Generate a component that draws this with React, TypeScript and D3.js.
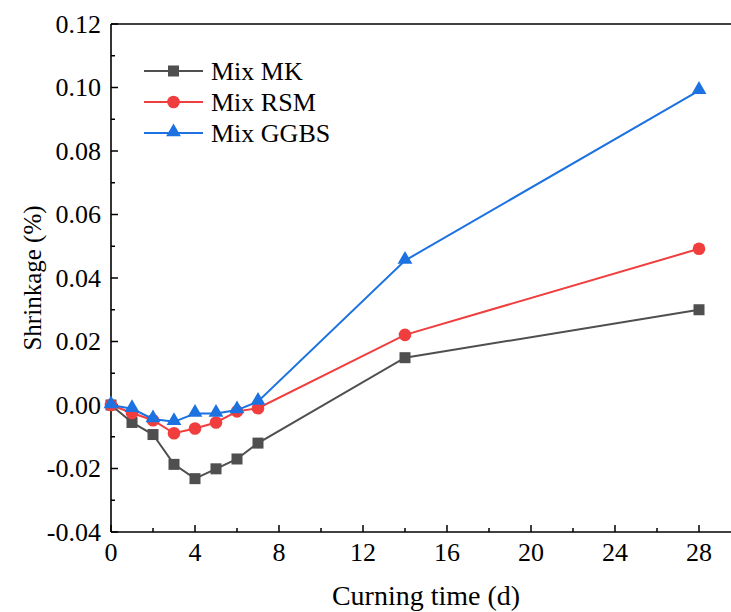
import React from "react";
import * as d3 from "d3";

const days = [0, 1, 2, 3, 4, 5, 6, 7, 14, 28];
const mixMK = [0, -0.0055, -0.0093, -0.0187, -0.0232, -0.0201, -0.0170, -0.0120, 0.0149, 0.0300];
const mixRSM = [0, -0.0025, -0.0048, -0.0089, -0.0074, -0.0055, -0.0020, -0.0010, 0.0221, 0.0492];
const mixGGBS = [0, -0.0012, -0.0044, -0.0053, -0.0027, -0.0027, -0.0016, 0.0011, 0.0455, 0.0990];

const seriesNames = ["Mix MK", "Mix RSM", "Mix GGBS"];
const xTicks = [0, 4, 8, 12, 16, 20, 24, 28];
const yTicks = [-0.04, -0.02, 0, 0.02, 0.04, 0.06, 0.08, 0.1, 0.12];

const W = 731;
const H = 612;
const left = 111;
const top = 24;
const bottom = 532;
const right = 741;

const colors = ["#4f4f4f", "#f03e3e", "#1c72e0"];
const serif = { fontFamily: "Liberation Serif, Times New Roman, serif" };

function Marker({ kind, x, y, color }: { kind: number; x: number; y: number; color: string }) {
  if (kind === 0) return <rect x={x - 5.5} y={y - 5.5} width={11} height={11} fill={color} />;
  if (kind === 1) return <circle cx={x} cy={y} r={6.3} fill={color} />;
  const sym = d3.symbol().type(d3.symbolTriangle).size(95)();
  return <path d={sym || ""} transform={`translate(${x},${y - 1})`} fill={color} />;
}

export default function App() {
  const x = d3.scaleLinear().domain([0, 30]).range([left, right]);
  const y = d3.scaleLinear().domain([-0.04, 0.12]).range([bottom, top]);
  const all = [mixMK, mixRSM, mixGGBS];
  const line = d3
    .line<number>()
    .x((_, i) => x(days[i]))
    .y((v) => y(v));

  const xMinor = d3.range(0, 31, 2).filter((v) => v % 4 !== 0);
  const yMinor = d3.range(-0.03, 0.12, 0.02);

  return (
    <svg width={W} height={H} style={{ position: "absolute", left: 0, top: 0, background: "#fff" }}>
      {/* frame */}
      <line x1={left} x2={right} y1={top} y2={top} stroke="#000" strokeWidth={1.6} />
      <line x1={left} x2={left} y1={top} y2={bottom} stroke="#000" strokeWidth={1.6} />
      <line x1={left} x2={right} y1={bottom} y2={bottom} stroke="#000" strokeWidth={1.6} />

      {/* x ticks */}
      {xTicks.map((t) => (
        <g key={"xt" + t}>
          <line x1={x(t)} x2={x(t)} y1={bottom} y2={bottom - 7} stroke="#000" strokeWidth={1.5} />
          <text x={x(t)} y={561} textAnchor="middle" style={serif} fontSize={26} fill="#000">
            {t}
          </text>
        </g>
      ))}
      {xMinor.map((t) => (
        <line key={"xm" + t} x1={x(t)} x2={x(t)} y1={bottom} y2={bottom - 4} stroke="#000" strokeWidth={1.5} />
      ))}

      {/* y ticks */}
      {yTicks.map((t) => (
        <g key={"yt" + t}>
          <line x1={left} x2={left + 7} y1={y(t)} y2={y(t)} stroke="#000" strokeWidth={1.5} />
          <text x={101} y={y(t) + 8.5} textAnchor="end" style={serif} fontSize={26} fill="#000">
            {t.toFixed(2)}
          </text>
        </g>
      ))}
      {yMinor.map((t) => (
        <line key={"ym" + t} x1={left} x2={left + 4} y1={y(t)} y2={y(t)} stroke="#000" strokeWidth={1.5} />
      ))}

      {/* axis titles */}
      <text
        transform={`translate(41,${(top + bottom) / 2}) rotate(-90)`}
        textAnchor="middle"
        style={serif}
        fontSize={25}
        fill="#000"
      >
        Shrinkage (%)
      </text>
      <text x={(left + right) / 2} y={605} textAnchor="middle" style={serif} fontSize={28} fill="#000">
        Curning time (d)
      </text>

      {/* series */}
      {all.map((vals, k) => (
        <g key={"s" + k}>
          <path d={line(vals) || ""} fill="none" stroke={colors[k]} strokeWidth={2} />
          {vals.map((v, i) => (
            <Marker key={i} kind={k} x={x(days[i])} y={y(v)} color={colors[k]} />
          ))}
        </g>
      ))}

      {/* legend */}
      {seriesNames.map((name, k) => {
        const ly = 71 + k * 31;
        return (
          <g key={"lg" + k}>
            <line x1={144} x2={203} y1={ly} y2={ly} stroke={colors[k]} strokeWidth={2} />
            <Marker kind={k} x={173.5} y={ly} color={colors[k]} />
            <text x={211} y={ly + 8.5} style={serif} fontSize={26} fill="#000">
              {name}
            </text>
          </g>
        );
      })}
    </svg>
  );
}
